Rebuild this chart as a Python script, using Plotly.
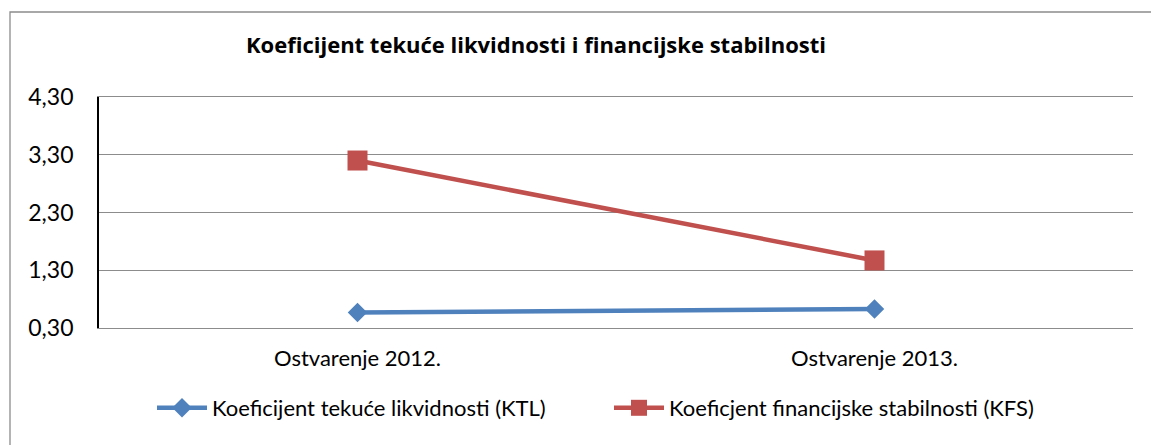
import plotly.graph_objects as go

categories = ["Ostvarenje 2012.", "Ostvarenje 2013."]
ktl_values = [0.57, 0.63]
kfs_values = [3.20, 1.47]
ktl_name = "Koeficijent tekuće likvidnosti (KTL)"
kfs_name = "Koeficjent financijske stabilnosti (KFS)"
title_text = "Koeficijent tekuće likvidnosti i financijske stabilnosti"
y_ticks = [0.30, 1.30, 2.30, 3.30, 4.30]
y_tick_labels = ["0,30", "1,30", "2,30", "3,30", "4,30"]

FONT = "Lato"
TITLE_FONT = "Open Sans"
W, H = 1151, 445
ML, MT = 99, 97
MR = W - 1133
MB = H - 328
pw = W - ML - MR
ph = H - MT - MB

def px_to_paper_x(px):
    return (px - ML) / pw

def px_to_paper_y(py):
    return (H - MB - py) / ph

fig = go.Figure()
fig.add_trace(go.Scatter(
    x=categories, y=ktl_values, name=ktl_name, mode="lines+markers",
    line=dict(color="#4F81BD", width=4.5),
    marker=dict(symbol="diamond", size=15, color="#4F81BD"),
))
fig.add_trace(go.Scatter(
    x=categories, y=kfs_values, name=kfs_name, mode="lines+markers",
    line=dict(color="#C0504D", width=4.5),
    marker=dict(symbol="square", size=20, color="#C0504D"),
))

fig.update_layout(
    width=W, height=H,
    margin=dict(l=ML, r=MR, t=MT, b=MB, autoexpand=False),
    paper_bgcolor="white", plot_bgcolor="white",
    font=dict(family=FONT, color="black", size=22),
    title=dict(text="<b>" + title_text + "</b>", x=px_to_paper_x(536), xref="paper",
               xanchor="center", y=1 - 45 / H, yref="container", yanchor="middle",
               font=dict(family=TITLE_FONT, size=22, color="black")),
    showlegend=True,
    legend=dict(orientation="h", x=px_to_paper_x(152), xanchor="left",
                y=px_to_paper_y(408), yanchor="middle",
                font=dict(family=FONT, size=22, color="black"),
                itemwidth=50,
                entrywidth=392, entrywidthmode="pixels",
                bgcolor="rgba(0,0,0,0)"),
    xaxis=dict(range=[-0.5, 1.5], showgrid=False, zeroline=False,
               showline=True, mirror=True, linecolor="#8C8C8C", linewidth=1.3,
               ticks="", ticklabelstandoff=10, automargin=False,
               tickfont=dict(family=FONT, size=22)),
    yaxis=dict(range=[0.30, 4.30], tickvals=y_ticks, ticktext=y_tick_labels,
               showgrid=True, gridcolor="#8C8C8C", gridwidth=1.3, zeroline=False,
               showline=True, linecolor="black", linewidth=1.8, ticks="",
               ticklabelstandoff=19, automargin=False,
               tickfont=dict(family=FONT, size=23)),
    shapes=[dict(type="rect", xref="paper", yref="paper",
                 x0=px_to_paper_x(10), x1=px_to_paper_x(1170),
                 y0=px_to_paper_y(470), y1=px_to_paper_y(12),
                 line=dict(color="#8C8C8C", width=1.3), fillcolor="rgba(0,0,0,0)",
                 layer="below")],
)

fig.write_html(
    "out.html",
    config={"displayModeBar": False},
    post_script="document.body.style.margin='0';document.body.style.overflow='hidden';"
                "document.documentElement.style.overflow='hidden';",
)
